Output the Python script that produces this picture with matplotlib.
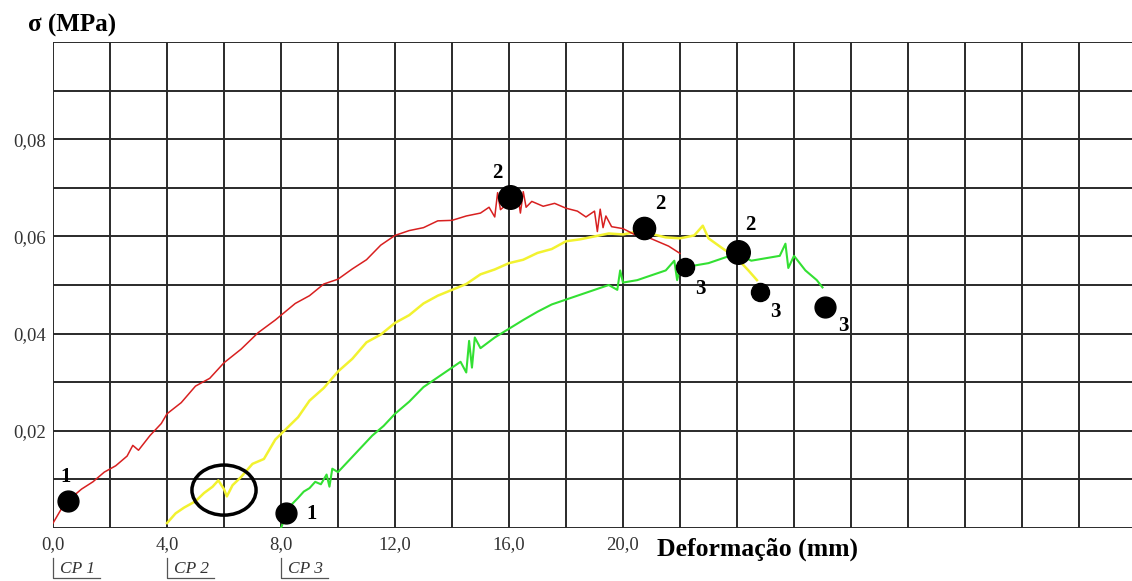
import numpy as np
import matplotlib
matplotlib.use("Agg")
import matplotlib.pyplot as plt
from matplotlib.patches import Ellipse
import matplotlib.transforms as mtransforms

plt.rcParams['font.family'] = ['Liberation Serif', 'DejaVu Serif']

# CP 1 (red) - deformation (mm) vs stress (MPa)
cp1_x = [0.0, 0.3, 0.6, 1.0, 1.4, 1.8, 2.2, 2.6, 2.8, 3.0, 3.4, 3.8, 4.0, 4.5, 5.0,
         5.5, 6.0, 6.6, 7.2, 7.8, 8.5, 9.0, 9.5, 10.0, 10.5, 11.0, 11.5, 12.0, 12.5,
         13.0, 13.5, 14.0, 14.5, 15.0, 15.3, 15.5, 15.6, 15.7, 15.9, 16.1, 16.3, 16.4,
         16.5, 16.6, 16.8, 17.2, 17.6, 18.0, 18.4, 18.7, 19.0, 19.1, 19.2, 19.3, 19.4,
         19.6, 20.0, 20.4, 20.8, 21.2, 21.6, 22.0]
cp1_y = [0.001, 0.004, 0.006, 0.008, 0.0095, 0.0115, 0.0128, 0.0148, 0.0170, 0.0160,
         0.019, 0.0215, 0.0235, 0.0258, 0.0292, 0.0308, 0.0340, 0.0368, 0.0402, 0.0428,
         0.0462, 0.0478, 0.0502, 0.0512, 0.0533, 0.0552, 0.0582, 0.0602, 0.0612, 0.0618,
         0.0632, 0.0633, 0.0642, 0.0648, 0.0660, 0.0640, 0.0690, 0.0655, 0.0665, 0.0670,
         0.0688, 0.0648, 0.0692, 0.0660, 0.0672, 0.0662, 0.0668, 0.0658, 0.0652, 0.0640,
         0.0652, 0.0610, 0.0656, 0.0618, 0.0642, 0.0620, 0.0616, 0.0604, 0.0600, 0.0590,
         0.0580, 0.0565]

# CP 2 (yellow)
cp2_x = [4.0, 4.3, 4.6, 5.0, 5.3, 5.6, 5.8, 6.0, 6.1, 6.3, 6.6, 7.0, 7.4, 7.8, 8.2,
         8.6, 9.0, 9.5, 10.0, 10.5, 11.0, 11.5, 12.0, 12.5, 13.0, 13.5, 14.0, 14.5,
         15.0, 15.5, 16.0, 16.5, 17.0, 17.5, 18.0, 18.5, 19.0, 19.5, 20.0, 20.5, 21.0,
         21.5, 22.0, 22.5, 22.8, 23.0, 23.5, 24.0, 24.4, 24.7]
cp2_y = [0.001, 0.003, 0.0042, 0.0055, 0.0072, 0.0085, 0.0098, 0.0080, 0.0065, 0.0088,
         0.0105, 0.0132, 0.0142, 0.0182, 0.0205, 0.0228, 0.0262, 0.0288, 0.0322, 0.0348,
         0.0382, 0.0398, 0.0422, 0.0438, 0.0462, 0.0478, 0.0490, 0.0502, 0.0522, 0.0532,
         0.0545, 0.0552, 0.0566, 0.0574, 0.0590, 0.0594, 0.0600, 0.0606, 0.0604, 0.0610,
         0.0605, 0.0598, 0.0596, 0.0602, 0.0622, 0.0596, 0.0575, 0.0555, 0.0530, 0.0510]

# CP 3 (green)
cp3_x = [8.0, 8.2, 8.4, 8.6, 8.8, 9.0, 9.2, 9.4, 9.6, 9.7, 9.8, 10.0, 10.4, 10.8, 11.2,
         11.6, 12.0, 12.5, 13.0, 13.5, 14.0, 14.3, 14.5, 14.6, 14.7, 14.8, 15.0, 15.5,
         16.0, 16.5, 17.0, 17.5, 18.0, 18.5, 19.0, 19.5, 19.8, 19.9, 20.0, 20.5, 21.0,
         21.5, 21.8, 21.9, 22.0, 22.5, 23.0, 23.5, 24.0, 24.5, 25.0, 25.5, 25.7, 25.8,
         26.0, 26.4, 26.8, 27.0]
cp3_y = [0.000, 0.003, 0.005, 0.0062, 0.0075, 0.0082, 0.0095, 0.0090, 0.0110, 0.0085,
         0.0122, 0.0115, 0.0140, 0.0165, 0.0190, 0.0210, 0.0235, 0.0260, 0.0290, 0.0310,
         0.0330, 0.0342, 0.0320, 0.0385, 0.0330, 0.0392, 0.0370, 0.0392, 0.0410, 0.0428,
         0.0445, 0.0460, 0.0470, 0.0480, 0.0490, 0.0500, 0.0490, 0.0530, 0.0505, 0.0510,
         0.0520, 0.0530, 0.0550, 0.0510, 0.0535, 0.0540, 0.0545, 0.0555, 0.0565, 0.0550,
         0.0555, 0.0560, 0.0585, 0.0535, 0.0560, 0.0530, 0.0510, 0.0495]

# marked points (black dots) and their numbers
pt_x = [0.53, 16.03, 20.74, 24.04, 22.18, 24.8, 27.09, 8.18]
pt_y = [0.0056, 0.0682, 0.0617, 0.0567, 0.0538, 0.0485, 0.0454, 0.0031]
pt_labels = ['1', '2', '2', '2', '3', '3', '3', '1']
pt_offsets = [(-3, 24), (-13, 24), (16, 24), (12, 27), (15, -22), (16, -20), (18, -19), (25, -1)]
pt_sizes = [15, 17, 16, 17, 13, 13, 15, 15]

x_ticks = [0, 4, 8, 12, 16, 20]
x_ticklabels = ['0,0', '4,0', '8,0', '12,0', '16,0', '20,0']
y_ticks = [0.02, 0.04, 0.06, 0.08]
y_ticklabels = ['0,02', '0,04', '0,06', '0,08']
cp_names = ['CP 1', 'CP 2', 'CP 3']
cp_starts = [0, 4, 8]

fig = plt.figure(figsize=(11.32, 5.81), dpi=100)
ax = fig.add_axes([53 / 1132, 53 / 581, 1 - 53 / 1132, 486 / 581])
ax.set_xlim(0, (1132 - 53) / 28.5)
ax.set_ylim(0, 0.1)

# grid
gc = '#2a2a2a'
for gx in np.arange(0, 37, 2):
    ax.axvline(gx, color=gc, lw=1.4, zorder=1)
for gy in np.arange(0, 0.101, 0.01):
    ax.axhline(gy, color=gc, lw=1.4, zorder=1)
for s in ax.spines.values():
    s.set_visible(False)

ax.set_xticks(x_ticks)
ax.set_xticklabels(x_ticklabels, fontsize=13.5)
ax.set_yticks(y_ticks)
ax.set_yticklabels(y_ticklabels, fontsize=13.5)
ax.tick_params(axis='x', length=0, pad=6, colors='#333333')
ax.tick_params(axis='y', length=0, pad=5, colors='#333333')

ax.plot(cp1_x, cp1_y, color='#d82020', lw=1.1, zorder=3)
ax.plot(cp2_x, cp2_y, color='#f2f230', lw=1.8, zorder=2)
ax.plot(cp3_x, cp3_y, color='#33e033', lw=1.5, zorder=3)

for x, y, lab, off, ms in zip(pt_x, pt_y, pt_labels, pt_offsets, pt_sizes):
    ax.plot(x, y, 'o', color='black', ms=ms, zorder=5, clip_on=False)
    ax.annotate(lab, (x, y), xytext=off, textcoords='offset pixels',
                ha='center', va='center', fontsize=15, fontweight='bold', zorder=6)

ax.add_patch(Ellipse((6.0, 0.0078), 2.25, 0.0103, fill=False, edgecolor='black',
                     lw=2.5, zorder=6))

# CP brackets under the x axis
trans = mtransforms.blended_transform_factory(ax.transData, ax.transAxes)
for x0, name in zip(cp_starts, cp_names):
    ax.plot([x0, x0, x0 + 1.65], [-0.062, -0.103, -0.103], color='#555555', lw=0.9,
            transform=trans, clip_on=False)
    ax.text(x0 + 0.25, -0.084, name, transform=trans, fontsize=12.5, style='italic',
            va='center', ha='left', color='#333333')

fig.text(28 / 1132, 1 - 25 / 581, 'σ (MPa)', fontsize=18, fontweight='bold',
         va='center', ha='left')
fig.text(657 / 1132, 1 - 549 / 581, 'Deformação (mm)', fontsize=18.5, fontweight='bold',
         va='center', ha='left')

fig.savefig('out.png', dpi=100, facecolor='white')
